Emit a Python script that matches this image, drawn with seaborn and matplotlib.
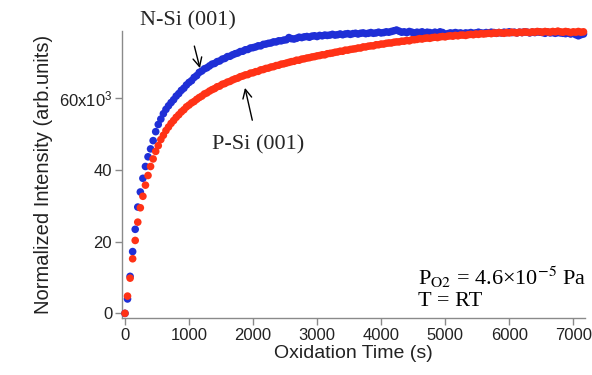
import matplotlib
matplotlib.use("Agg")
import matplotlib.pyplot as plt
import seaborn as sns
import pandas as pd

# ---- data ----
time_s = [
    0, 40, 80, 120, 160, 200, 240, 280, 320, 360,
    400, 440, 480, 520, 560, 600, 640, 680, 720, 760,
    800, 840, 880, 920, 960, 1000, 1040, 1080, 1120, 1160,
    1200, 1240, 1280, 1320, 1360, 1400, 1440, 1480, 1520, 1560,
    1600, 1640, 1680, 1720, 1760, 1800, 1840, 1880, 1920, 1960,
    2000, 2040, 2080, 2120, 2160, 2200, 2240, 2280, 2320, 2360,
    2400, 2440, 2480, 2520, 2560, 2600, 2640, 2680, 2720, 2760,
    2800, 2840, 2880, 2920, 2960, 3000, 3040, 3080, 3120, 3160,
    3200, 3240, 3280, 3320, 3360, 3400, 3440, 3480, 3520, 3560,
    3600, 3640, 3680, 3720, 3760, 3800, 3840, 3880, 3920, 3960,
    4000, 4040, 4080, 4120, 4160, 4200, 4240, 4280, 4320, 4360,
    4400, 4440, 4480, 4520, 4560, 4600, 4640, 4680, 4720, 4760,
    4800, 4840, 4880, 4920, 4960, 5000, 5040, 5080, 5120, 5160,
    5200, 5240, 5280, 5320, 5360, 5400, 5440, 5480, 5520, 5560,
    5600, 5640, 5680, 5720, 5760, 5800, 5840, 5880, 5920, 5960,
    6000, 6040, 6080, 6120, 6160, 6200, 6240, 6280, 6320, 6360,
    6400, 6440, 6480, 6520, 6560, 6600, 6640, 6680, 6720, 6760,
    6800, 6840, 6880, 6920, 6960, 7000, 7040, 7080, 7120, 7160,
]

n_si = [
    0.0, 4.0, 10.3, 17.2, 23.4, 29.6, 33.8, 37.6, 40.9, 43.6,
    45.8, 48.1, 50.6, 52.6, 54.1, 55.6, 56.8, 57.8, 58.7, 59.5,
    60.5, 61.2, 62.1, 62.7, 63.6, 64.3, 64.8, 65.7, 66.2, 67.1,
    67.5, 68.1, 68.4, 68.9, 69.4, 69.6, 70.1, 70.3, 70.8, 71.0,
    71.5, 71.6, 72.0, 72.3, 72.5, 72.9, 73.0, 73.4, 73.5, 73.9,
    74.0, 74.2, 74.5, 74.5, 74.9, 75.0, 75.2, 75.3, 75.6, 75.6,
    75.9, 75.9, 76.1, 76.2, 76.8, 76.5, 76.4, 76.6, 76.9, 76.8,
    77.0, 77.1, 76.9, 77.2, 77.3, 77.1, 77.4, 77.3, 77.5, 77.4,
    77.5, 77.7, 77.5, 77.6, 77.8, 77.6, 77.8, 77.9, 77.7, 77.9,
    78.0, 77.8, 78.0, 78.1, 77.9, 78.0, 78.2, 78.0, 78.1, 78.3,
    78.1, 78.2, 78.4, 78.3, 78.5, 78.7, 78.9, 78.6, 78.3, 78.4,
    78.2, 78.5, 78.3, 78.1, 78.3, 78.2, 78.4, 78.1, 78.3, 78.2,
    78.0, 78.3, 78.1, 78.4, 78.2, 77.7, 77.9, 78.1, 78.0, 78.2,
    78.0, 78.1, 77.9, 78.1, 78.0, 78.2, 78.0, 78.1, 78.3, 78.1,
    78.0, 78.2, 78.1, 78.3, 78.2, 78.0, 78.2, 78.1, 78.3, 78.2,
    78.4, 78.2, 78.3, 78.1, 78.3, 78.2, 78.4, 78.3, 78.1, 78.3,
    78.2, 78.4, 78.3, 78.2, 78.0, 78.3, 78.1, 78.2, 78.0, 78.2,
    78.1, 78.0, 77.9, 78.1, 77.8, 78.0, 77.6, 77.3, 77.6, 77.8,
]

p_si = [
    0.0, 4.8, 9.8, 15.2, 20.3, 25.4, 29.4, 32.6, 35.7, 38.4,
    40.9, 43.0, 45.1, 46.7, 48.4, 49.6, 50.9, 51.9, 52.9, 53.7,
    54.6, 55.3, 56.1, 56.7, 57.5, 58.0, 58.6, 59.0, 59.6, 60.1,
    60.5, 61.1, 61.4, 61.9, 62.3, 62.6, 63.1, 63.3, 63.8, 64.0,
    64.4, 64.6, 65.0, 65.3, 65.5, 65.9, 66.1, 66.4, 66.5, 66.9,
    67.0, 67.3, 67.4, 67.8, 67.9, 68.2, 68.3, 68.6, 68.7, 69.0,
    69.1, 69.4, 69.5, 69.7, 69.9, 70.1, 70.2, 70.5, 70.5, 70.8,
    70.9, 71.1, 71.2, 71.4, 71.5, 71.7, 71.8, 72.0, 72.0, 72.3,
    72.4, 72.5, 72.7, 72.8, 73.0, 73.0, 73.3, 73.3, 73.5, 73.6,
    73.7, 73.9, 73.9, 74.2, 74.2, 74.4, 74.5, 74.5, 74.8, 74.8,
    75.0, 75.0, 75.2, 75.3, 75.3, 75.5, 75.6, 75.6, 75.8, 75.8,
    76.0, 75.9, 76.2, 76.2, 76.3, 76.5, 76.4, 76.6, 76.7, 76.6,
    76.8, 76.9, 76.8, 77.0, 77.1, 77.0, 77.2, 77.3, 77.2, 77.4,
    77.3, 77.5, 77.5, 77.4, 77.6, 77.7, 77.6, 77.8, 77.7, 77.9,
    77.8, 77.9, 78.0, 77.9, 78.1, 78.0, 78.2, 78.1, 78.0, 78.2,
    78.1, 78.3, 78.2, 78.1, 78.3, 78.2, 78.4, 78.3, 78.2, 78.4,
    78.3, 78.5, 78.4, 78.3, 78.5, 78.4, 78.3, 78.5, 78.4, 78.6,
    78.4, 78.3, 78.5, 78.4, 78.2, 78.4, 78.3, 78.5, 78.3, 78.4,
]

series_names = ["N-Si (001)", "P-Si (001)"]
series_colors = ["#1f2fd6", "#ff3216"]
x_ticks = [0, 1000, 2000, 3000, 4000, 5000, 6000, 7000]
y_ticks = [0, 20, 40, 60]
y_tick_labels = ["0", "20", "40", "60x10$^3$"]

# ---- build table ----
df = pd.concat([
    pd.DataFrame({"t": time_s, "v": n_si, "sample": series_names[0]}),
    pd.DataFrame({"t": time_s, "v": p_si, "sample": series_names[1]}),
], ignore_index=True)

sns.set_theme(style="white")
plt.rcParams["font.family"] = ["Liberation Sans", "DejaVu Sans"]
plt.rcParams["mathtext.fontset"] = "custom"
plt.rcParams["mathtext.rm"] = "Liberation Sans"
plt.rcParams["mathtext.it"] = "Liberation Sans:italic"

fig = plt.figure(figsize=(5.92, 3.75), dpi=100)
ax = fig.add_axes([0.206, 0.152, 0.782, 0.765])

sns.scatterplot(data=df, x="t", y="v", hue="sample", hue_order=series_names,
                palette=series_colors, s=30, linewidth=0, edgecolor="none",
                legend=False, ax=ax, clip_on=False, zorder=3)

ax.set_xlim(-47, 7182)
ax.set_ylim(-1.3, 78.6)
ax.set_xticks(x_ticks)
ax.set_xticklabels([str(v) for v in x_ticks])
ax.set_yticks(y_ticks)
ax.set_yticklabels(y_tick_labels)

grey = "#8a8a8a"
for side in ["top", "right"]:
    ax.spines[side].set_visible(False)
for side in ["left", "bottom"]:
    ax.spines[side].set_color(grey)
    ax.spines[side].set_linewidth(1.0)
ax.tick_params(axis="both", which="major", direction="out", length=5,
               width=1.0, color=grey, labelsize=12, labelcolor="#222222", pad=2,
               bottom=True, left=True)
ax.set_xlabel("Oxidation Time (s)", fontsize=14, color="#222222", labelpad=2)
ax.set_ylabel("Normalized Intensity (arb.units)", fontsize=14.5,
              color="#222222", labelpad=4)

serif = ["Liberation Serif", "DejaVu Serif"]
ax.annotate(series_names[0], xy=(1171, 68.3), xytext=(984, 81.4),
            ha="center", va="center", fontsize=16, family=serif,
            annotation_clip=False,
            arrowprops=dict(arrowstyle="->", color="black", lw=1.0,
                            shrinkA=9, shrinkB=0, mutation_scale=16))
ax.annotate(series_names[1], xy=(1874, 62.8), xytext=(2077, 46.8),
            ha="center", va="center", fontsize=16, family=serif,
            arrowprops=dict(arrowstyle="->", color="black", lw=1.0,
                            shrinkA=9, shrinkB=0, mutation_scale=16))

ax.text(4580, 10.0, "P$_\\mathrm{O2}$ = 4.6×10$^\\mathrm{-5}$ Pa",
        fontsize=16, family=serif, math_fontfamily="stix",
        ha="left", va="center", color="black")
ax.text(4580, 3.3, "T = RT", fontsize=16, family=serif,
        ha="left", va="center", color="black")

fig.savefig("out.png", dpi=100)
